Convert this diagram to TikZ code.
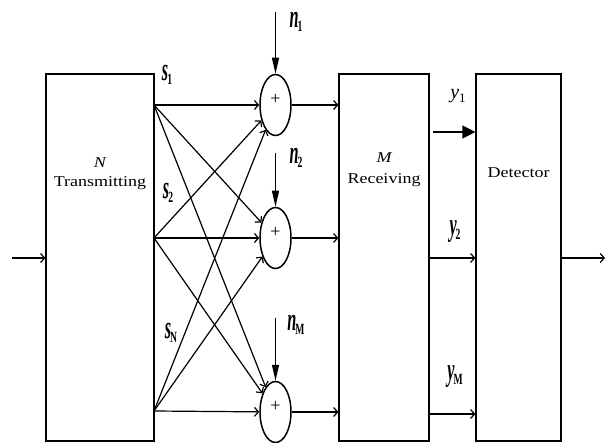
\documentclass[tikz,border=0pt]{standalone}
\usepackage{fontspec}
\setmainfont{Liberation Serif}
\usetikzlibrary{arrows.meta,shapes.geometric}
\newcommand{\tall}[2]{\scalebox{0.9}[1.8]{\fontseries{b}\fontshape{it}\selectfont #1}\hspace{-1pt}\raisebox{-4pt}{\scalebox{0.8}[1.3]{\fontsize{12}{12}\fontseries{b}\selectfont #2}}}
\newcommand{\wide}[1]{\scalebox{1.2}[1]{#1}}
\begin{document}
\begin{tikzpicture}[x=1pt,y=-1pt,line width=1.2pt,
  box/.style={draw,rectangle,minimum height=367pt,inner sep=0pt},
  summer/.style={draw,ellipse,line width=1.5pt,minimum width=31pt,minimum height=61pt,inner sep=0pt},
  open/.style={-{Straight Barb[length=4pt,width=9pt]}},
  filled/.style={-{Triangle[length=16pt,width=7pt]}},
  filledy/.style={-{Triangle[length=13pt,width=13pt]}},
  txt/.style={inner sep=0pt,font=\fontsize{15}{15}\selectfont},
  lab/.style={inner sep=0pt,font=\fontsize{18}{18}\selectfont}]
\useasboundingbox (0,0) rectangle (610,443);
\node[box,minimum width=108pt] (tx) at (100,257.5) {};
\node[box,minimum width=90pt] (rx) at (384,257.5) {};
\node[box,minimum width=85pt] (det) at (518.5,257.5) {};
\node[txt,font=\fontsize{15}{15}\selectfont\itshape] (tN) at (100,163) {\wide{N}};
\node[txt] (tT) at (100,183) {\wide{Transmitting}};
\node[txt,font=\fontsize{15}{15}\selectfont\itshape] (rM) at (384,158) {\wide{M}};
\node[txt] (rR) at (384,180) {\wide{Receiving}};
\node[txt] (dD) at (518.5,173) {\wide{Detector}};

\node[summer] (a1) at (275.5,105) {};
\node[summer] (a2) at (275.5,238) {};
\node[summer] (a3) at (275.5,412) {};
\foreach \a in {a1,a2,a3} \node[inner sep=0pt,font=\fontsize{18}{18}\selectfont] at ([yshift=6pt]\a.center) {+};

\coordinate (t1) at (154,105);
\coordinate (t2) at (154,238);
\coordinate (t3) at (154,411);
\foreach \t in {t1,t2,t3} \foreach \a in {a1,a2,a3} \draw[open] (\t) -- (\a);

\coordinate (n1s) at (275.5,12);
\coordinate (n2s) at (275.5,153);
\coordinate (n3s) at (275.5,318);
\draw[filled] (n1s) -- (a1);
\draw[filled] (n2s) -- (a2);
\draw[filled] (n3s) -- (a3);

\draw[open] (a1.east) -- (a1.east -| rx.west);
\draw[open] (a2.east) -- (a2.east -| rx.west);
\draw[open] (a3.east) -- (a3.east -| rx.west);

\coordinate (y1s) at (433,132);
\draw[filledy] (y1s) -- (y1s -| det.west);
\coordinate (y2s) at (429,258);
\draw[open] (y2s) -- (y2s -| det.west);
\coordinate (y3s) at (429,414);
\draw[open] (y3s) -- (y3s -| det.west);

\coordinate (ins) at (12,258);
\draw[open] (ins) -- (ins -| tx.west);
\coordinate (outs) at (605,258);
\draw[open] (outs -| det.east) -- (outs);

\node[lab] (ln1) at (296,22) {\tall{n}{1}};
\node[lab] (ln2) at (296,158) {\tall{n}{2}};
\node[lab] (ln3) at (296,325) {\tall{n}{M}};
\node[lab] (ls1) at (167,75) {\tall{s}{1}};
\node[lab] (ls2) at (168,193) {\tall{s}{2}};
\node[lab] (ls3) at (171,333) {\tall{s}{N}};
\node[lab] (ly1) at (458,96) {\fontsize{20}{20}\selectfont\itshape y\raisebox{-4pt}{\fontsize{13}{13}\selectfont\upshape 1}};
\node[lab] (ly2) at (455,232) {\tall{y}{2}};
\node[lab] (ly3) at (455,377) {\tall{y}{M}};
\end{tikzpicture}
\end{document}
